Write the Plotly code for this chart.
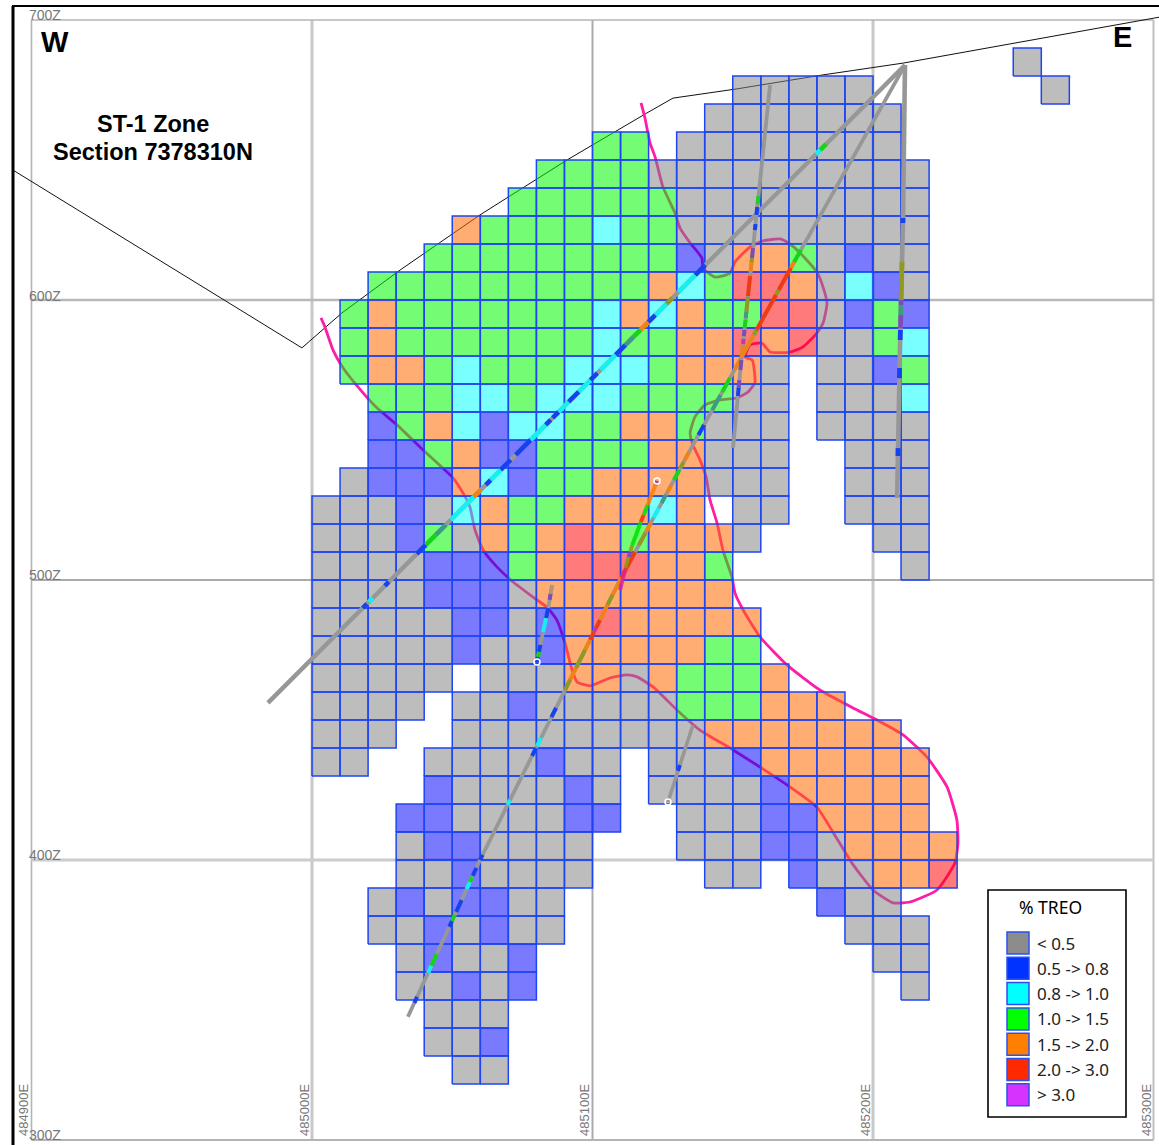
import numpy as np
import plotly.graph_objects as go

# ---------- block model: one string per bench, first char = column at 485000E, 10 m cells
bench_tops = [690, 680, 670, 660, 650, 640, 630, 620, 610, 600, 590, 580, 570, 560, 550, 540, 530, 520, 510, 500,
              490, 480, 470, 460, 450, 440, 430, 420, 410, 400, 390, 380, 370, 360, 350, 340, 330]
bench_cells = [
    "." * 25 + "g",
    "." * 15 + "ggggg" + "." * 6 + "g",
    "." * 14 + "ggggggg",
    "." * 10 + "ll." + "gggggggg",
    "." * 8 + "llll" + "gggggggggg",
    "." * 7 + "llllll" + "ggggggggg",
    "." * 5 + "ollllcll" + "ggggggggg",
    "." * 4 + "lllllllll" + "bgoolgbgg",
    "." * 2 + "llllllllll" + "oclrrogcbg",
    ".lolllllllcoco" + "llrrgblb",
    ".lolllllllcll" + "oororgglc",
    ".loolclllccc" + "looog.ggbl",
    "..lllcclcccllll" + "gg.gggc",
    "..blocb" + "ccllool" + "ggg.gggg",
    "..bblobbllllooggg..ggg",
    ".gbbbocbll" + "oooo" + "ggg..ggg",
    "gggbgcolloooco.gg..ggg",
    "gggblgolorolooog....gg",
    "ggggbbblorrrool" + "......g",
    "ggggbbbgooooooo",
    "gggggbbgborooooo",
    "gggggbggb" + "ooooo" + "ll",
    "ggggg.gggoogolllo",
    "gggg.ggbggggglllooo",
    "ggg..ggggggggg" + "ooooooo",
    "gg..ggggbgg.gggb" + "oooooo",
    "....bggggbg.ggggb" + "ooooo",
    "...bbggggbb..gggbb" + "oooo",
    "...gbbgggg...gggbbg" + "oooo",
    "...ggbgggg....gg.bgg" + "oor",
    "..gbgbbgg" + "." * 9 + "bgg",
    "..ggbgbgg" + "." * 10 + "ggg",
    "...gbggb" + "." * 12 + "gg",
    "...ggbgb" + "." * 13 + "g",
    "....ggg",
    "....ggb",
    ".....gg",
]
class_names = ["< 0.5", "0.5 -> 0.8", "0.8 -> 1.0", "1.0 -> 1.5", "1.5 -> 2.0", "2.0 -> 3.0", "> 3.0"]
cell_fill = {"g": "rgba(128,128,128,0.52)", "b": "rgba(0,0,255,0.52)", "c": "rgba(0,255,255,0.52)",
             "l": "rgba(0,250,0,0.54)", "o": "rgba(255,105,0,0.55)", "r": "rgba(255,0,0,0.52)"}
legend_swatches = ["#8C8C8C", "#0033FF", "#00FFFF", "#00FF00", "#FF8000", "#FF2A00", "#D633FF"]
assay_color = {"B": "#0033FF", "C": "#00FFFF", "L": "#00E000", "O": "#FF8000", "R": "#FF2A00", "P": "#7A40C0",
               "M": "#E0209A", "T": "#2E9E7E", "K": "#8E9A10", "N": "#B89868"}

# ---------- topography
topo_e = [484893.4, 484996.4, 485010.7, 485031.4, 485059.9, 485090.9, 485119.4, 485128.7, 485151.5, 485182.2,
          485210.7, 485234.6, 485302.0]
topo_z = [646.4, 582.9, 595.4, 610.7, 630.4, 650.0, 666.8, 672.1, 675.4, 680.4, 684.6, 688.9, 701.0]

# ---------- mineralised envelope (metres east of 485000E, elevation)
env_e = [117.3, 118.7, 120.5, 122.3, 125.1, 129.4, 131.2, 134.8, 139.0, 139.4, 143.7, 149.0, 150.8, 156.1, 160.8,
         166.8, 170.4, 174.0, 180.0, 182.2, 183.6, 182.2, 180.0, 175.0, 170.4, 163.3, 160.4, 156.1, 154.4, 156.9,
         157.9, 157.9, 155.4, 151.5, 145.5, 140.1, 136.5, 134.8, 135.8, 138.3, 140.5, 141.9, 144.4, 146.5, 149.7,
         150.8, 153.7, 159.7, 169.3, 181.1, 192.9, 201.4, 210.7, 219.2, 226.4, 229.9, 230.3, 229.2, 222.8, 213.2,
         207.1, 200.0, 192.5, 185.7, 180.0, 170.4, 159.7, 149.0, 138.3, 130.1, 121.6, 115.9, 112.3, 106.2, 99.1,
         94.5, 92.7, 90.2, 87.3, 84.1, 78.8, 71.7, 66.0, 61.0, 58.1, 56.3, 53.8, 50.3, 39.6, 30.3, 23.2, 18.2,
         11.1, 7.5, 4.6, 3.2]
env_z = [670.4, 665.0, 656.1, 651.1, 640.4, 631.1, 625.7, 620.4, 615.0, 611.4, 608.2, 609.6, 613.6, 618.9, 621.1,
         621.8, 620.0, 616.8, 610.0, 604.6, 598.9, 591.8, 588.2, 583.2, 581.4, 581.4, 584.6, 583.9, 579.6, 578.6,
         572.5, 570.4, 567.1, 565.0, 564.3, 562.5, 558.2, 552.5, 548.2, 542.9, 536.8, 528.6, 520.4, 510.7, 501.1,
         495.4, 489.3, 479.7, 469.7, 460.7, 454.3, 450.0, 444.7, 436.8, 426.1, 414.3, 406.1, 398.9, 389.3, 385.0,
         384.7, 389.3, 398.9, 410.0, 418.9, 426.1, 433.2, 440.0, 446.4, 453.6, 461.8, 465.4, 466.1, 465.0, 462.2,
         463.6, 467.9, 477.5, 485.7, 490.0, 493.9, 499.3, 504.6, 510.7, 517.9, 526.1, 531.1, 536.4, 546.4, 555.4,
         561.4, 566.8, 575.7, 582.1, 590.4, 593.6]

# ---------- drill holes: trace (m east of 485000E, elevation) and assay intervals (z from, z to, class)
h1_e = [211.4, -15.7]
h1_z = [683.9, 456.1]
h1_a = [(655.7, 653.6, "L"), (653.6, 652.1, "C"), (612.5, 608.9, "B"), (608.9, 602.9, "C"), (600.7, 598.6, "K"),
        (598.6, 594.6, "C"), (594.6, 592.1, "B"), (592.1, 589.3, "O"), (589.3, 586.8, "L"), (586.8, 583.9, "T"),
        (583.9, 580.4, "B"), (580.4, 575.0, "C"), (573.9, 571.4, "B"), (571.4, 567.2, "C"), (567.2, 563.6, "B"),
        (563.6, 560.0, "C"), (560.0, 557.9, "B"), (557.2, 555.4, "B"), (555.4, 550.0, "C"), (550.0, 544.7, "B"),
        (542.9, 539.3, "B"), (539.3, 535.7, "C"), (535.7, 534.0, "B"), (532.2, 529.7, "O"), (529.7, 521.5, "C"),
        (519.7, 516.1, "T"), (516.1, 512.5, "L"), (512.5, 509.3, "B"), (499.3, 497.9, "B"), (493.6, 492.2, "C"),
        (491.5, 490.0, "B")]
h2_e = [211.4, 172.9, 134.8, 109.8, 92.0, 59.9, 34.2]
h2_z = [683.9, 615.4, 546.4, 500.0, 464.3, 400.0, 344.0]
h2_a = [(617.9, 613.6, "L"), (613.6, 611.4, "O"), (611.4, 603.6, "R"), (603.6, 601.8, "K"), (601.8, 589.3, "R"),
        (589.3, 587.5, "K"), (587.5, 575.0, "O"), (572.1, 567.1, "L"), (566.1, 560.7, "T"), (555.4, 551.8, "B"),
        (545.7, 542.9, "O"), (542.1, 540.0, "K"), (539.3, 535.7, "L"), (533.9, 531.4, "O"), (530.4, 527.5, "T"),
        (525.7, 522.2, "C"), (520.7, 517.1, "O"), (516.8, 512.5, "K"), (510.0, 500.7, "R"), (500.7, 494.7, "O"),
        (494.7, 491.1, "K"), (491.1, 485.7, "O"), (485.7, 482.9, "R"), (482.9, 481.4, "M"), (481.4, 478.6, "R"),
        (478.6, 475.0, "O"), (475.0, 468.6, "K"), (468.6, 464.3, "O"), (464.3, 460.7, "K"), (454.3, 451.0, "B"),
        (443.6, 440.7, "C"), (440.0, 437.2, "B"), (421.4, 419.7, "C"), (401.8, 400.0, "B"), (397.2, 394.3, "B"),
        (393.9, 392.1, "L"), (392.1, 389.7, "C"), (385.7, 381.5, "B"), (380.4, 378.2, "L"), (378.2, 376.1, "B"),
        (366.5, 362.2, "L"), (362.2, 359.7, "C"), (351.1, 349.0, "B")]
h3_e = [211.4, 210.7, 209.6, 208.6]
h3_z = [683.9, 628.6, 582.1, 529.3]
h3_a = [(629.3, 627.5, "B"), (613.6, 600.0, "K"), (600.0, 598.2, "P"), (598.2, 594.6, "T"), (594.6, 589.9, "P"),
        (589.3, 585.7, "B"), (575.7, 572.1, "B"), (547.1, 544.3, "B")]
h4_e = [163.3, 159.0, 155.4, 152.6, 150.1]
h4_z = [676.8, 635.7, 601.1, 573.9, 547.1]
h4_a = [(637.1, 634.3, "L"), (633.2, 630.4, "B"), (627.1, 625.0, "B"), (618.6, 615.0, "P"), (615.0, 613.6, "K"),
        (613.6, 610.0, "O"), (608.6, 601.4, "R"), (601.1, 595.7, "K"), (595.7, 593.6, "T"), (592.9, 590.0, "L"),
        (589.3, 587.1, "P"), (586.1, 584.3, "M"), (583.9, 579.3, "O"), (578.6, 575.0, "P"), (571.4, 568.6, "P"),
        (568.6, 565.7, "B")]
h5_e = [85.6, 84.1, 82.0, 80.2]
h5_z = [498.2, 489.3, 479.7, 470.7]
h5_a = [(498.2, 495.0, "N"), (495.0, 492.9, "P"), (490.0, 486.4, "B"), (486.4, 481.4, "C"), (476.8, 474.3, "B"),
        (474.3, 472.5, "L"), (472.5, 470.7, "B")]
h6_e = [123.0, 119.4, 115.1, 112.3, 109.8]
h6_z = [535.4, 526.1, 515.4, 506.4, 496.4]
h6_a = [(535.4, 533.9, "P"), (533.9, 526.8, "O"), (526.8, 523.2, "L"), (523.2, 520.7, "R"), (520.7, 512.5, "L"),
        (512.5, 510.0, "K"), (510.0, 508.2, "P"), (508.2, 504.3, "K"), (503.6, 496.4, "M")]
h7_e = [135.8, 126.9]
h7_z = [448.2, 420.7]
h7_a = [(433.9, 431.8, "B")]
collar_ends = [(80.2, 470.7), (123.0, 535.4), (126.9, 420.7)]

BASE = 485000
W, H = 1159, 1145
x_range = [BASE + (0 - 312) / 2.805, BASE + (W - 312) / 2.805]
y_range = [600 - (H - 300) / 2.8, 600 + 300 / 2.8]


def px(x):
    return x_range[0] + x / W * (x_range[1] - x_range[0])


def py(y):
    return y_range[1] - y / H * (y_range[1] - y_range[0])


fig = go.Figure()
# topo + envelope are beneath the translucent blocks
fig.add_trace(go.Scatter(x=topo_e, y=topo_z, mode="lines", line=dict(color="#111111", width=1.0), hoverinfo="skip"))
fig.add_trace(go.Scatter(x=[BASE + e for e in env_e], y=env_z, mode="lines",
                         line=dict(color="#FF1CA8", width=2.8, shape="spline", smoothing=0.5), hoverinfo="skip"))

for code, fill in cell_fill.items():
    xs, ys = [], []
    for top, row in zip(bench_tops, bench_cells):
        for col, ch in enumerate(row):
            if ch == code:
                x0 = BASE + 10 * col
                xs += [x0, x0 + 10, x0 + 10, x0, x0, None]
                ys += [top - 10, top - 10, top, top, top - 10, None]
    fig.add_trace(go.Scatter(x=xs, y=ys, mode="lines", fill="toself", fillcolor=fill,
                             line=dict(color="#1F45F2", width=1.5), hoverinfo="skip"))

holes = [(h1_e, h1_z, h1_a, 4.4), (h2_e, h2_z, h2_a, 3.8), (h3_e, h3_z, h3_a, 4.6), (h4_e, h4_z, h4_a, 3.8),
         (h5_e, h5_z, h5_a, 3.8), (h6_e, h6_z, h6_a, 3.8), (h7_e, h7_z, h7_a, 3.6)]
for he, hz, assays, width in holes:
    is_h6 = he is h6_e
    if not is_h6:
        fig.add_trace(go.Scatter(x=[BASE + e for e in he], y=hz, mode="lines",
                                 line=dict(color="#979797", width=width), hoverinfo="skip"))
    order = np.argsort(hz)
    ze = np.array(hz)[order]
    ee = np.array(he)[order]
    for z0, z1, cl in assays:
        fig.add_trace(go.Scatter(x=[BASE + float(np.interp(z0, ze, ee)), BASE + float(np.interp(z1, ze, ee))],
                                 y=[z0, z1], mode="lines",
                                 line=dict(color=assay_color[cl], width=width + 0.2), opacity=0.85, hoverinfo="skip"))
fig.add_trace(go.Scatter(x=[BASE + p[0] for p in collar_ends], y=[p[1] for p in collar_ends], mode="markers",
                         marker=dict(size=6, color="rgba(0,0,0,0)", line=dict(color="white", width=1.5)),
                         hoverinfo="skip"))

# ---------- section grid
shapes = []
grid_x = [(484900, "#B4B4B4", 1.6), (485000, "#C8C8C8", 3), (485100, "#ABABAB", 2), (485200, "#C8C8C8", 3),
          (485300, "#C0C0C0", 2)]
grid_y = [(700, "#B4B4B4", 1.6), (600, "#B8B8B8", 2.5), (500, "#ABABAB", 2), (400, "#CCCCCC", 3), (300, "#B4B4B4", 2)]
for v, c, w in grid_x:
    shapes.append(dict(type="line", layer="below", x0=v, x1=v, y0=300, y1=700, line=dict(color=c, width=w)))
for v, c, w in grid_y:
    shapes.append(dict(type="line", layer="below", x0=484900, x1=485300, y0=v, y1=v, line=dict(color=c, width=w)))
# frame
shapes.append(dict(type="line", xref="paper", yref="paper", x0=13 / W, x1=13 / W, y0=0, y1=1 - 6 / H,
                   line=dict(color="black", width=3)))
shapes.append(dict(type="line", xref="paper", yref="paper", x0=12 / W, x1=1, y0=1 - 6 / H, y1=1 - 6 / H,
                   line=dict(color="black", width=2)))

annotations = []


def label(x, y, text, size, color="black", bold=False, family="Liberation Sans", angle=0, anchor="center", ya="middle"):
    annotations.append(dict(x=px(x), y=py(y), text=f"<b>{text}</b>" if bold else text, showarrow=False,
                            font=dict(size=size, color=color, family=family), textangle=angle,
                            xanchor=anchor, yanchor=ya))


for z, y in [(700, 15), (600, 296), (500, 575), (400, 855), (300, 1135)]:
    label(27, y, f"{z}Z", 14, "#777777", anchor="left", family="Liberation Sans")
for e, x in [(484900, 23), (485000, 304), (485100, 584), (485200, 865), (485300, 1146)]:
    annotations.append(dict(x=px(x), y=py(1138), text=f"{e}E", showarrow=False, textangle=-90,
                            font=dict(size=13, color="#777777", family="Liberation Sans"),
                            xanchor="center", yanchor="bottom"))

label(55, 42, "W", 29, bold=True)
label(1122, 37, "E", 29, bold=True)
label(153, 124, "ST-1 Zone", 23.5, bold=True)
label(153, 152, "Section 7378310N", 23.5, bold=True)

# ---------- legend box
shapes.append(dict(type="rect", xref="paper", yref="paper", x0=988 / W, x1=1126 / W, y0=1 - 1117 / H, y1=1 - 890 / H,
                   fillcolor="white", line=dict(color="black", width=1.6)))
label(1050, 907, "% TREO", 17.5, family="Noto Sans")
for i, (name, col) in enumerate(zip(class_names, legend_swatches)):
    yc = 943 + i * 25.3
    shapes.append(dict(type="rect", xref="paper", yref="paper", x0=1007 / W, x1=1029 / W,
                       y0=1 - (yc + 11) / H, y1=1 - (yc - 11) / H, fillcolor=col,
                       line=dict(color="#2A50F0", width=1.5)))
    label(1035, yc, name, 17, "#222222", anchor="left", family="Noto Sans")

fig.update_layout(width=W, height=H, margin=dict(l=0, r=0, t=0, b=0), showlegend=False,
                  paper_bgcolor="white", plot_bgcolor="white",
                  xaxis=dict(range=x_range, visible=False, fixedrange=True),
                  yaxis=dict(range=y_range, visible=False, fixedrange=True),
                  shapes=shapes, annotations=annotations)
fig.write_html("out.html", post_script="document.body.style.margin='0';document.body.style.overflow='hidden';",
               config={"displayModeBar": False})
